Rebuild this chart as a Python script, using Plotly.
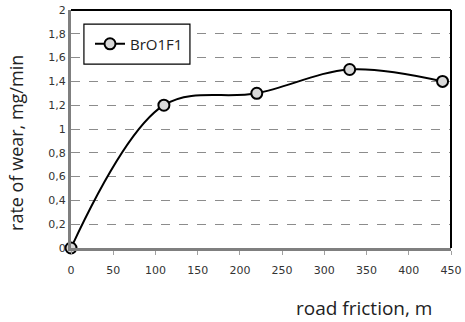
import plotly.graph_objects as go

distance = [0, 110, 220, 330, 440]
wear_rate = [0, 1.2, 1.3, 1.5, 1.4]
series_name = "BrO1F1"
x_title = "road friction, m"
y_title = "rate of wear, mg/min"

fig = go.Figure()
fig.add_trace(go.Scatter(
    x=distance, y=wear_rate, name=series_name, mode="lines+markers",
    line=dict(color="black", width=2, shape="spline", smoothing=1.0),
    marker=dict(size=11, color="#d9d9d9", line=dict(color="black", width=2)),
    cliponaxis=False,
))

fig.update_layout(
    width=465, height=322,
    margin=dict(l=71, r=14, t=10, b=74, autoexpand=False),
    paper_bgcolor="white", plot_bgcolor="white",
    separators=", ",
    font=dict(family="DejaVu Sans", size=11, color="#333333"),
    showlegend=True,
    legend=dict(x=0.05, y=0.857, xanchor="left", yanchor="middle",
                borderwidth=0, bgcolor="rgba(0,0,0,0)",
                font=dict(family="Open Sans", size=15, color="#222222"),
                itemwidth=30),
    xaxis=dict(range=[0, 450], dtick=50, showgrid=False, zeroline=False,
               automargin=False,
               showline=True, linecolor="#7f7f7f", linewidth=3,
               ticks="outside", ticklen=4, tickcolor="#a0a0a0", tickwidth=1,
               ticklabelstandoff=6,
               tickfont=dict(family="DejaVu Sans", size=11, color="#333333")),
    yaxis=dict(range=[0, 2], dtick=0.2, showgrid=True, gridcolor="#8c8c8c",
               griddash="dash", gridwidth=1, zeroline=False, automargin=False,
               showline=True, linecolor="#7f7f7f", linewidth=3,
               ticks="", tickfont=dict(family="DejaVu Sans", size=11, color="#333333")),
    shapes=[
        dict(type="rect", xref="paper", yref="paper", x0=0.034, x1=0.313, y0=0.773, y1=0.941,
             line=dict(color="black", width=1.2), fillcolor="white", layer="above"),
        dict(type="line", xref="paper", yref="paper", x0=1, x1=1, y0=0, y1=1,
             line=dict(color="black", width=2)),
        dict(type="line", xref="paper", yref="paper", x0=0, x1=1, y0=1, y1=1,
             line=dict(color="black", width=2)),
    ],
    annotations=[
        dict(text=x_title, xref="paper", yref="paper", x=0.77, y=-0.19,
             xanchor="center", yanchor="top", showarrow=False,
             font=dict(family="Open Sans", size=19, color="#222222")),
        dict(text=y_title, xref="paper", yref="paper", x=-0.143, y=0.44,
             xanchor="center", yanchor="middle", showarrow=False, textangle=-90,
             font=dict(family="Open Sans", size=18, color="#222222")),
    ],
)

fig.write_html("out.html", config={"displayModeBar": False},
               post_script="document.body.style.margin='0';document.body.style.overflow='hidden';")
